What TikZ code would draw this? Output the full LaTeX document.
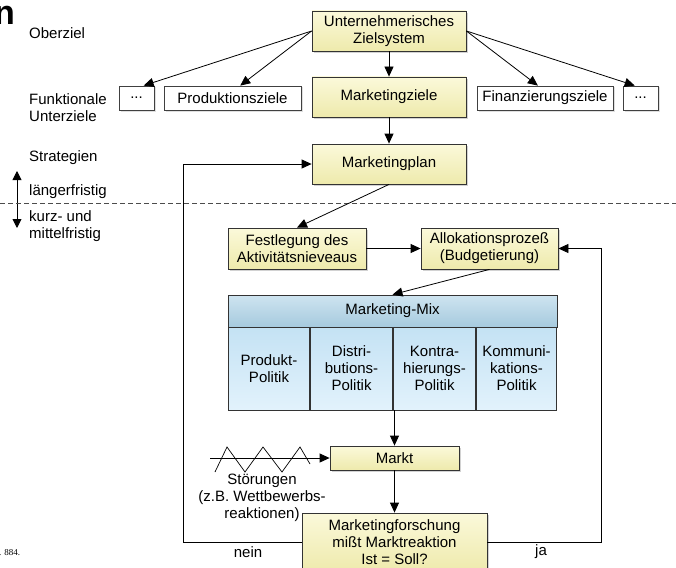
\documentclass[tikz,border=0pt]{standalone}
\usepackage{fontspec}
\setmainfont{Liberation Sans}
\newfontfamily\srcfont{Liberation Serif}
\usepackage{tikz}
\usetikzlibrary{arrows.meta,shadows,positioning}

\definecolor{gelbhell}{RGB}{251,249,218}
\definecolor{gelbdunkel}{RGB}{238,234,172}
\definecolor{blauhell}{RGB}{226,242,252}
\definecolor{blaudunkel}{RGB}{196,226,244}
\definecolor{kopfhell}{RGB}{206,228,240}
\definecolor{kopfdunkel}{RGB}{166,202,222}

\begin{document}
\begin{tikzpicture}[x=1pt, y=-1pt, font=\fontsize{15}{17}\selectfont,
	gelb/.style={draw=black!80, line width=0.8pt, top color=gelbhell, bottom color=gelbdunkel,
		align=center, inner sep=0pt, drop shadow={shadow xshift=2pt, shadow yshift=-2pt, fill=black!35}},
	weiss/.style={draw=black!75, line width=0.8pt, fill=white, inner sep=0pt, minimum height=24,
		drop shadow={shadow xshift=1.5pt, shadow yshift=-1.5pt, fill=black!25}},
	zelle/.style={draw=black!80, line width=0.8pt, top color=blaudunkel, bottom color=blauhell,
		align=center, inner sep=0pt, minimum height=83},
	pfeil/.style={line width=0.8pt, -{Triangle[length=10pt, width=9pt]}},
	links/.style={anchor=west, align=left, inner sep=0pt}]
	\useasboundingbox (0,0) rectangle (676,567);

	% linke Spalte
	\node[inner sep=0pt, anchor=base east, font=\fontsize{34}{34}\selectfont\bfseries] (titel) at (15,25) {n};
	\node[links] (oberziel) at (29,33) {Oberziel};
	\node[links] (funktional) at (29,108) {Funktionale\\Unterziele};
	\node[links] (strategien) at (29,158) {Strategien};
	\node[links] (laenger) at (29,192) {längerfristig};
	\node[links] (kurz) at (29,226) {kurz- und\\mittelfristig};
	\coordinate (pfeiloben) at (17,171);
	\coordinate (pfeilunten) at (17,228);
	\draw[line width=0.9pt, {Triangle[length=9pt, width=9pt]}-{Triangle[length=9pt, width=9pt]}] (pfeiloben) to (pfeilunten);
	\coordinate (strichlinks) at (0,203);
	\coordinate (strichrechts) at (676,203);
	\draw[black!70, line width=0.7pt, dash pattern=on 5pt off 3pt] (strichlinks) to (strichrechts);
	\node[inner sep=0pt, anchor=west, font=\srcfont\fontsize{9}{9}\selectfont] (quelle) at (-1,553) {. 884.};

	% Zielsystem
	\node[gelb, minimum width=154, minimum height=40] (ziel) at (389,31) {Unternehmerisches\\Zielsystem};
	\node[gelb, minimum width=154, minimum height=40] (mziele) at (389,97) {Marketingziele};
	\node[gelb, minimum width=154, minimum height=40] (mplan) at (389,164) {Marketingplan};
	\node[weiss, minimum width=35] (punkte1) at (136.5,98) {.{}.{}.};
	\node[weiss, minimum width=137] (prod) at (232.5,98) {Produktionsziele};
	\node[weiss, minimum width=136] (fin) at (545,98) {Finanzierungsziele};
	\node[weiss, minimum width=35] (punkte2) at (640.5,98) {.{}.{}.};
	\draw[pfeil] (ziel.west) to (punkte1.60);
	\draw[pfeil] (ziel.west) to (prod.58);
	\draw[pfeil] (ziel.east) to (fin.120);
	\draw[pfeil] (ziel.east) to (punkte2.115);
	\draw[pfeil] (ziel) to (mziele);
	\draw[pfeil] (mziele) to (mplan);

	% Planung
	\node[gelb, minimum width=138, minimum height=41] (fest) at (297,248.5) {Festlegung des\\Aktivitätsnieveaus};
	\node[gelb, minimum width=137, minimum height=41] (allok) at (489.5,248.5) {Allokationsprozeß\\(Budgetierung)};
	\draw[pfeil] (mplan.south) to (fest.north);
	\draw[pfeil] (fest) to (allok);

	% Marketing-Mix
	\node[draw=black!80, line width=0.8pt, top color=kopfhell, bottom color=kopfdunkel, inner sep=0pt,
		minimum width=329, minimum height=32] (mix) at (392.5,311) {Marketing-Mix};
	\draw[pfeil] (allok.south) to (mix.north);
	\node[zelle, minimum width=80.5] (produkt) at (269,368.5) {Produkt-\\Politik};
	\node[zelle, minimum width=81.5] (distri) at (351.5,368.5) {Distri-\\butions-\\Politik};
	\node[zelle, minimum width=81.5] (kontra) at (434.5,368.5) {Kontra-\\hierungs-\\Politik};
	\node[zelle, minimum width=79.5] (kommu) at (516.5,368.5) {Kommuni-\\kations-\\Politik};

	% Markt und Kontrolle
	\node[gelb, minimum width=129, minimum height=24] (markt) at (394.5,458) {Markt};
	\node[gelb, minimum width=185, minimum height=59] (forsch) at (394.5,542.5) {Marketingforschung\\mißt Marktreaktion\\Ist = Soll?};
	\coordinate (mixunten) at (394.5,410);
	\draw[pfeil] (mixunten) to (markt.north);
	\draw[pfeil] (markt) to (forsch);

	\coordinate (stoerung) at (210,458);
	\draw[line width=0.7pt] (215,472) -- (227,447) -- (245,472) -- (263,447) -- (282,472) -- (300,447) -- (310,464);
	\draw[pfeil] (stoerung) to (markt.west);
	\node[align=center, inner sep=0pt] (stoertext) at (262,498) {Störungen\\(z.B. Wettbewerbs-\\reaktionen)};

	\draw[pfeil] (forsch.west) -- (183,542.5) -- (183,164) -- (mplan.west);
	\draw[pfeil] (forsch.east) -- (601,542.5) -- (601,248.5) -- (allok.east);
	\node[inner sep=0pt] (nein) at (248,552) {nein};
	\node[inner sep=0pt] (ja) at (541,552) {ja};
\end{tikzpicture}
\end{document}
